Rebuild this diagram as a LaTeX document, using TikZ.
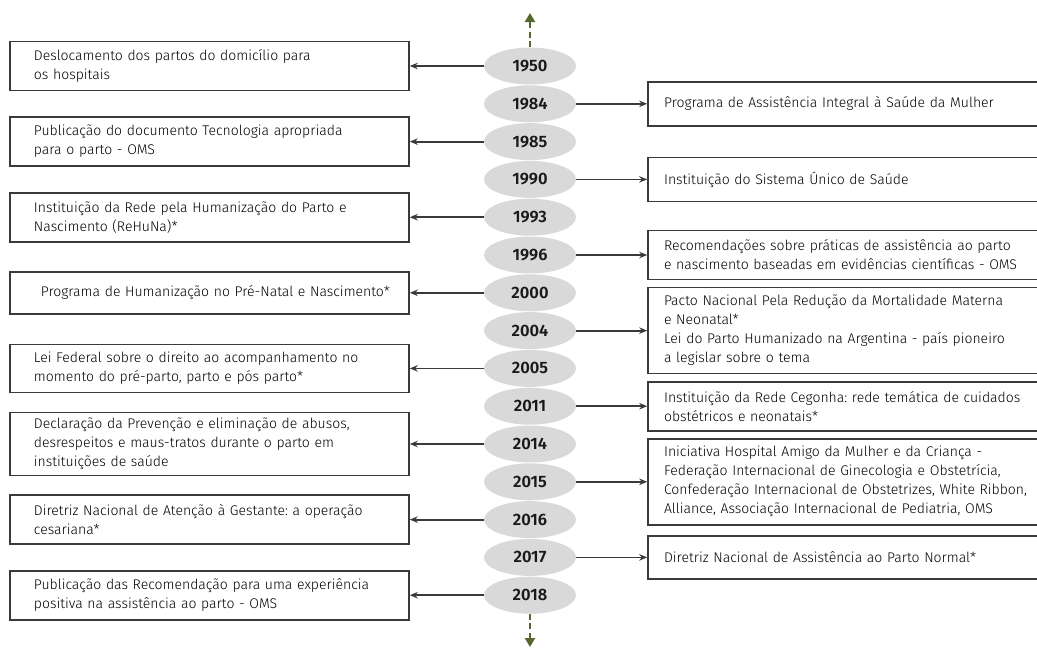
\documentclass[tikz,border=0pt]{standalone}
\usepackage{fontspec}
\setmainfont{Fira Sans}[UprightFont={* Light},BoldFont={* SemiBold}]
\frenchspacing
\usetikzlibrary{arrows.meta,positioning,shapes.geometric}

\definecolor{boxgray}{HTML}{3A3A3A}
\definecolor{yeargray}{HTML}{D9D9D9}
\definecolor{timegreen}{HTML}{56672F}

\begin{document}
\begin{tikzpicture}[x=1pt, y=-1pt, >={Stealth[length=8pt,width=6.5pt]}]
  \tikzstyle{year} = [ellipse, fill=yeargray, minimum width=92pt, minimum height=37pt, inner sep=0pt, node distance=37.8pt, text=black!90, font={\fontsize{16.5}{18}\selectfont\bfseries}]
  \tikzstyle{leftbox} = [draw=boxgray, line width=1.7pt, rectangle, text width=351pt, inner xsep=24pt, inner ysep=0pt, minimum height=49pt, align=left, text=black, font={\fontsize{14}{19}\selectfont}]
  \tikzstyle{rightbox} = [leftbox, text width=420pt, inner xsep=16pt]
  \tikzstyle{conn} = [boxgray, line width=1.8pt, ->];
  \tikzstyle{timeline} = [timegreen, line width=2.6pt, dash pattern=on 6pt off 3.5pt, -{Triangle[length=9pt,width=10pt]}];

  \useasboundingbox (0,0) rectangle (1037,649);
  \clip (0,0) rectangle (1037,649);

  % time line
  \coordinate (top) at (530,13);
  \coordinate (bottom) at (530,647);

  \node[year] (y1950) at (530,66) {1950};
  \node[year] (y1984) [below of=y1950] {1984};
  \node[year] (y1985) [below of=y1984] {1985};
  \node[year] (y1990) [below of=y1985] {1990};
  \node[year] (y1993) [below of=y1990] {1993};
  \node[year] (y1996) [below of=y1993] {1996};
  \node[year] (y2000) [below of=y1996] {2000};
  \node[year] (y2004) [below of=y2000] {2004};
  \node[year] (y2005) [below of=y2004] {2005};
  \node[year] (y2011) [below of=y2005] {2011};
  \node[year] (y2014) [below of=y2011] {2014};
  \node[year] (y2015) [below of=y2014] {2015};
  \node[year] (y2016) [below of=y2015] {2016};
  \node[year] (y2017) [below of=y2016] {2017};
  \node[year] (y2018) [below of=y2017] {2018};

  \draw[timeline] (y1950.north) -- (top);
  \draw[timeline] (y2018.south) -- (bottom);

  % left side
  \node[leftbox] (b1950) [left=74pt of y1950] {Deslocamento dos partos do domicílio para\\os hospitais};
  \node[leftbox] (b1985) [left=74pt of y1985] {Publicação do documento Tecnologia apropriada\\para o parto - OMS};
  \node[leftbox] (b1993) [left=74pt of y1993] {Instituição da Rede pela Humanização do Parto e\\Nascimento (ReHuNa)*};
  \node[leftbox, minimum height=42pt] (b2000) [left=74pt of y2000] {\mbox{\hspace*{7pt}Programa de Humanização no Pré-Natal e Nascimento*}};
  \node[leftbox, minimum height=48pt] (b2005) [left=74pt of y2005] {Lei Federal sobre o direito ao acompanhamento no\\momento do pré-parto, parto e pós parto*};
  \node[leftbox, minimum height=63pt] (b2014) [left=74pt of y2014] {Declaração da Prevenção e eliminação de abusos,\\desrespeitos e maus-tratos durante o parto em\\instituições de saúde};
  \node[leftbox] (b2016) [left=74pt of y2016] {Diretriz Nacional de Atenção à Gestante: a operação\\cesariana*};
  \node[leftbox] (b2018) [left=74pt of y2018] {Publicação das Recomendação para uma experiência\\positiva na assistência ao parto - OMS};

  % right side
  \node[rightbox, minimum height=44pt] (b1984) [right=71pt of y1984] {Programa de Assistência Integral à Saúde da Mulher};
  \node[rightbox, minimum height=44pt] (b1990) [right=71pt of y1990] {Instituição do Sistema Único de Saúde};
  \node[rightbox] (b1996) [right=71pt of y1996] {Recomendações sobre práticas de assistência ao parto\\e nascimento baseadas em evidências científicas - OMS};
  \node[rightbox, minimum height=86pt] (b2004) [right=71pt of y2004] {Pacto Nacional Pela Redução da Mortalidade Materna\\e Neonatal*\\Lei do Parto Humanizado na Argentina - país pioneiro\\a legislar sobre o tema};
  \node[rightbox] (b2011) [right=71pt of y2011] {Instituição da Rede Cegonha: rede temática de cuidados\\obstétricos e neonatais*};
  \node[rightbox, minimum height=86pt] (b2015) [right=71pt of y2015] {Iniciativa Hospital Amigo da Mulher e da Criança -\\Federação Internacional de Ginecologia e Obstetrícia,\\Confederação Internacional de Obstetrizes, White Ribbon,\\Alliance, Associação Internacional de Pediatria, OMS};
  \node[rightbox, minimum height=43pt] (b2017) [right=71pt of y2017] {Diretriz Nacional de Assistência ao Parto Normal*};

  \foreach \yr in {1950,1985,1993,2000,2005,2014,2016,2018}
    \draw[conn] (y\yr.west) -- (b\yr.east);
  \foreach \yr in {1984,1990,1996,2004,2011,2015,2017}
    \draw[conn] (y\yr.east) -- (b\yr.west);
\end{tikzpicture}
\end{document}
